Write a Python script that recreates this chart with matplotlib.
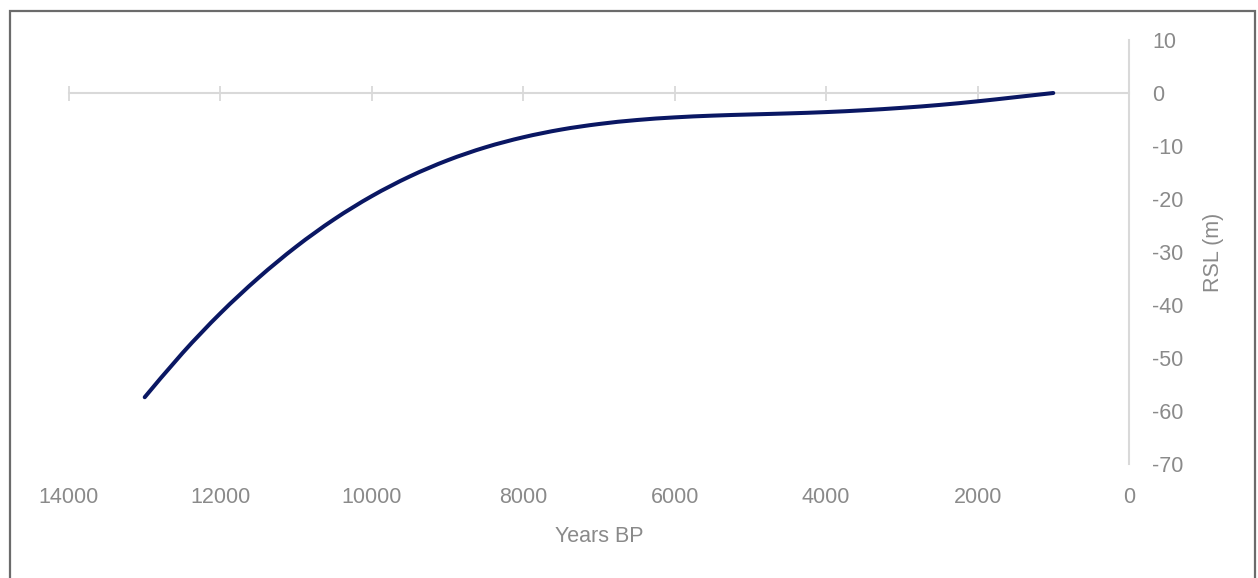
import matplotlib
matplotlib.use("Agg")
import matplotlib.pyplot as plt
from matplotlib.patches import Rectangle, PathPatch
from matplotlib.path import Path

# Data
years_bp = [13000, 12500, 12000, 11500, 11000, 10500, 10000, 9500, 9000, 8500,
            8000, 7500, 7000, 6500, 6000, 5500, 5000, 4500, 4000, 3500,
            3000, 2500, 2000, 1500, 1000]
rsl = [-57.4, -49.05, -41.55, -34.9, -29.0, -23.85, -19.45, -15.75, -12.7, -10.25,
       -8.35, -6.9, -5.85, -5.1, -4.6, -4.27, -4.05, -3.85, -3.6, -3.25,
       -2.8, -2.25, -1.57, -0.79, 0.0]
x_ticks = [14000, 12000, 10000, 8000, 6000, 4000, 2000, 0]
y_ticks = [10, 0, -10, -20, -30, -40, -50, -60, -70]

plt.rcParams['font.family'] = ['Liberation Sans', 'DejaVu Sans']
GRAY_TXT = '#8a8a8a'
AXIS_C = '#d9d9d9'
LINE_C = '#0a1763'

fig = plt.figure(figsize=(12.58, 5.78), dpi=100)
ax = fig.add_axes([69/1258, (578-464)/578, (1129-69)/1258, (464-40)/578])

# Smoothed line (Excel-style smoothing: cubic Bezier through the data points)
pts = list(zip(years_bp, rsl))
verts = [pts[0]]
codes = [Path.MOVETO]
n = len(pts)
for i in range(n - 1):
    p0 = pts[i - 1] if i > 0 else pts[i]
    p1 = pts[i]
    p2 = pts[i + 1]
    p3 = pts[i + 2] if i + 2 < n else pts[i + 1]
    c1 = (p1[0] + (p2[0] - p0[0]) / 6.0, p1[1] + (p2[1] - p0[1]) / 6.0)
    c2 = (p2[0] - (p3[0] - p1[0]) / 6.0, p2[1] - (p3[1] - p1[1]) / 6.0)
    verts += [c1, c2, p2]
    codes += [Path.CURVE4, Path.CURVE4, Path.CURVE4]
ax.add_patch(PathPatch(Path(verts, codes), facecolor='none', edgecolor=LINE_C,
                       lw=2.9, capstyle='round', joinstyle='round', zorder=3))

ax.set_xlim(14000, 0)
ax.set_ylim(-70, 10)
ax.set_xticks(x_ticks)
ax.set_yticks(y_ticks)
ax.set_xticklabels([str(v) for v in x_ticks])
ax.set_yticklabels([str(v) for v in y_ticks])

for s in ['left', 'bottom']:
    ax.spines[s].set_visible(False)
ax.spines['top'].set_position(('data', 0))
ax.spines['top'].set_color(AXIS_C)
ax.spines['top'].set_linewidth(1.5)
ax.spines['top'].set_zorder(1)
ax.spines['right'].set_color(AXIS_C)
ax.spines['right'].set_linewidth(1.5)

ax.tick_params(axis='x', which='both', top=True, bottom=False, labeltop=False,
               labelbottom=True, direction='inout', length=10.8, width=1.3,
               color=AXIS_C, labelcolor=GRAY_TXT, labelsize=15.5, pad=11.5)
ax.tick_params(axis='y', which='both', left=False, right=False, labelleft=False,
               labelright=True, labelcolor=GRAY_TXT, labelsize=15.5, pad=13)

ax.yaxis.set_label_position('right')
ax.set_ylabel('RSL (m)', color=GRAY_TXT, fontsize=15.5, labelpad=14)
ax.set_xlabel('Years BP', color=GRAY_TXT, fontsize=15.5, labelpad=12.5)

border = Rectangle((10/1258, -0.05), (1255-10)/1258, 1 - 11/578 + 0.05,
                   transform=fig.transFigure, fill=False, edgecolor='#6b6b6b',
                   linewidth=1.6, clip_on=False)
fig.patches.append(border)

fig.savefig('out.png', dpi=100)
